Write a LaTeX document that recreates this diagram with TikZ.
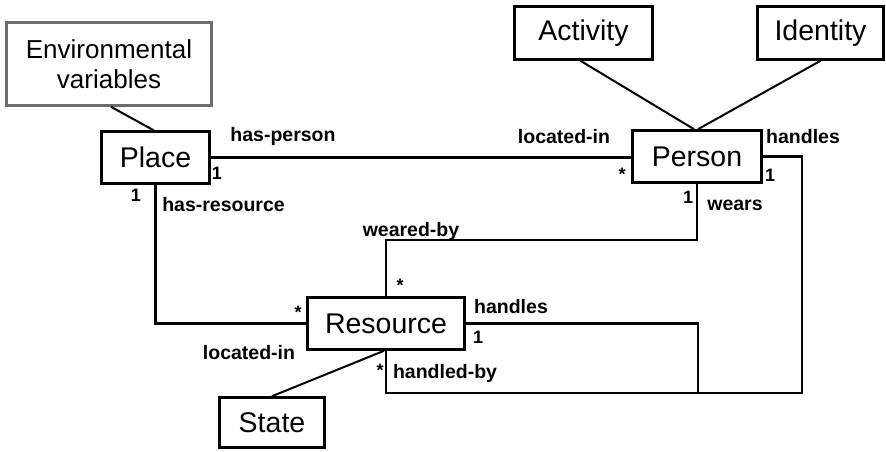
\documentclass[tikz,border=0pt]{standalone}
\usepackage{fontspec}
\setmainfont{Liberation Sans}
\begin{document}
\begin{tikzpicture}[x=1pt,y=-1pt,
  box/.style={draw=black,line width=2.6pt,rectangle,inner sep=0pt,font=\fontsize{28.5}{31}\selectfont,align=center},
  conn/.style={draw=black,line width=2.6pt},
  diag/.style={draw=black,line width=2pt},
  lbl/.style={inner sep=0pt,font=\bfseries\fontsize{19.5}{21}\selectfont},
  mult/.style={inner sep=0pt,font=\bfseries\fontsize{18}{20}\selectfont}]
\useasboundingbox (0,0) rectangle (886,451);
\fill[white] (0,0) rectangle (886,451);
% boxes
\node[box,draw=gray!85!black,minimum width=205pt,minimum height=83pt,font=\fontsize{26}{30}\selectfont] (env) at (109,64) {Environmental\\variables};
\node[box,minimum width=108pt,minimum height=52pt] (place) at (155.5,157.5) {Place};
\node[box,minimum width=129pt,minimum height=52pt] (person) at (697,156.5) {Person};
\node[box,minimum width=138pt,minimum height=53pt] (activity) at (583.5,33) {Activity};
\node[box,minimum width=126pt,minimum height=53pt] (identity) at (820.5,33) {Identity};
\node[box,minimum width=157pt,minimum height=52pt] (resource) at (386,323.5) {Resource};
\node[box,minimum width=105pt,minimum height=50pt] (state) at (272,422.5) {State};
% helper coordinates
\coordinate (wbend) at (697,240);
\coordinate (corner) at (802,393);
\coordinate (hb) at (698,393);
% connectors
\draw[diag] ([xshift=2pt]env.south) -- ([xshift=-2pt]place.north);
\draw[diag] ([xshift=-3pt]activity.south) -- ([xshift=-3pt]person.north);
\draw[diag] (identity.south) -- ([xshift=1pt]person.north);
\draw[diag] (state.north) -- ([xshift=-2pt]resource.south);
\draw[conn] (place.east) -- (place.east -| person.west);
\draw[conn] (place.south) |- (resource.west);
\draw[conn] (person.south) -- (wbend) -| (resource.north);
\draw[conn] (person.east) -| (corner) -| (resource.south);
\draw[conn] (resource.east) -| (hb);
% role labels
\node[lbl] (l1) at (283,136) {has-person};
\node[lbl] (l2) at (564,137) {located-in};
\node[lbl] (l3) at (803,137) {handles};
\node[lbl] (l4) at (223.5,205) {has-resource};
\node[lbl] (l5) at (411,231) {weared-by};
\node[lbl] (l6) at (735,205) {wears};
\node[lbl] (l7) at (511,307) {handles};
\node[lbl] (l8) at (249,353) {located-in};
\node[lbl] (l9) at (445,373) {handled-by};
% multiplicities
\node[mult] (m1) at (217,173) {1};
\node[mult] (m2) at (136,195) {1};
\node[mult] (m3) at (622,174) {*};
\node[mult] (m4) at (770,175) {1};
\node[mult] (m5) at (688,197) {1};
\node[mult] (m6) at (400,285) {*};
\node[mult] (m7) at (298,312) {*};
\node[mult] (m8) at (478,337) {1};
\node[mult] (m9) at (380,370) {*};
\end{tikzpicture}
\end{document}
